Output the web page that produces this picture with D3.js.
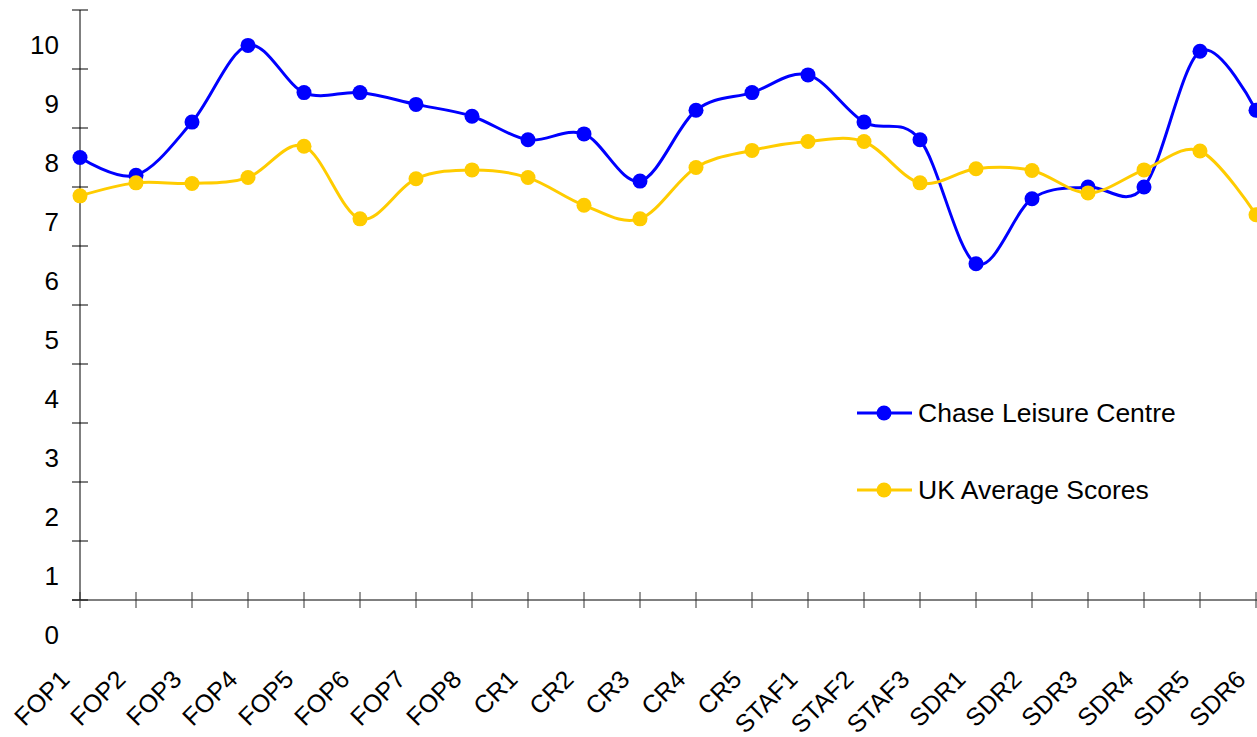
<html>
<head>
<script src="https://d3js.org/d3.v7.min.js"></script>
<style>
  body { margin: 0; background: #fff; }
  text { font-family: "Liberation Sans", Arial, sans-serif; fill: #000; }
</style>
</head>
<body>
<svg id="chart" width="1257" height="737"></svg>
<script>
// categories and scores
const categories = ["FOP1","FOP2","FOP3","FOP4","FOP5","FOP6","FOP7","FOP8",
  "CR1","CR2","CR3","CR4","CR5","STAF1","STAF2","STAF3",
  "SDR1","SDR2","SDR3","SDR4","SDR5","SDR6"];
const chaseScores = [7.5, 7.2, 8.1, 9.4, 8.6, 8.6, 8.4, 8.2, 7.8, 7.9, 7.1, 8.3,
  8.6, 8.9, 8.1, 7.8, 5.7, 6.8, 7.0, 7.0, 9.3, 8.3];
const ukScores = [6.85, 7.07, 7.06, 7.16, 7.69, 6.46, 7.14, 7.29, 7.16, 6.69, 6.46, 7.33,
  7.62, 7.77, 7.77, 7.07, 7.31, 7.28, 6.9, 7.29, 7.61, 6.53];
const yTicks = [0,1,2,3,4,5,6,7,8,9,10];
const seriesNames = ["Chase Leisure Centre", "UK Average Scores"];
const seriesColors = ["#0000ff", "#ffcc00"];

const svg = d3.select("#chart");
const x = d3.scalePoint().domain(categories).range([80, 1256]);
const y = d3.scaleLinear().domain([0, 10]).range([600, 10]);

// axes lines + ticks (ticks cross the axis)
svg.append("line").attr("x1", 80).attr("x2", 80).attr("y1", y(10)).attr("y2", y(0))
  .attr("stroke", "#000").attr("stroke-width", 1);
svg.append("line").attr("x1", 72).attr("x2", 1257).attr("y1", y(0)).attr("y2", y(0))
  .attr("stroke", "#000").attr("stroke-width", 1);

svg.selectAll(".ytick").data(yTicks).enter().append("line")
  .attr("x1", 72).attr("x2", 88)
  .attr("y1", d => y(d)).attr("y2", d => y(d))
  .attr("stroke", "#000");
svg.selectAll(".ylab").data(yTicks).enter().append("text")
  .attr("x", 59).attr("y", d => y(d) + 35)
  .attr("dy", "0.35em")
  .attr("text-anchor", "end")
  .style("font-size", "26px")
  .text(d => d);

svg.selectAll(".xtick").data(categories).enter().append("line")
  .attr("x1", d => x(d)).attr("x2", d => x(d))
  .attr("y1", 592).attr("y2", 608)
  .attr("stroke", "#333");
svg.selectAll(".xlab").data(categories).enter().append("text")
  .attr("text-anchor", "end")
  .attr("transform", d => "translate(" + (x(d) - 9) + ",681) rotate(-45)")
  .style("font-size", "25px")
  .text(d => d);

// smooth lines
const line = d3.line()
  .x((d, i) => x(categories[i]))
  .y(d => y(d))
  .curve(d3.curveCatmullRom.alpha(0));

[chaseScores, ukScores].forEach((vals, k) => {
  svg.append("path").datum(vals)
    .attr("d", line)
    .attr("fill", "none")
    .attr("stroke", seriesColors[k])
    .attr("stroke-width", 3);
  svg.selectAll(".dot" + k).data(vals).enter().append("circle")
    .attr("cx", (d, i) => x(categories[i]))
    .attr("cy", d => y(d))
    .attr("r", 7.5)
    .attr("fill", seriesColors[k]);
});

// legend
const legendY = [413, 490];
seriesNames.forEach((name, k) => {
  const g = svg.append("g");
  g.append("line").attr("x1", 857).attr("x2", 912)
    .attr("y1", legendY[k]).attr("y2", legendY[k])
    .attr("stroke", seriesColors[k]).attr("stroke-width", 3);
  g.append("circle").attr("cx", 884).attr("cy", legendY[k]).attr("r", 7.5)
    .attr("fill", seriesColors[k]);
  g.append("text").attr("x", 918).attr("y", legendY[k]).attr("dy", "0.35em")
    .style("font-size", "26.5px").text(name);
});
</script>
</body>
</html>
